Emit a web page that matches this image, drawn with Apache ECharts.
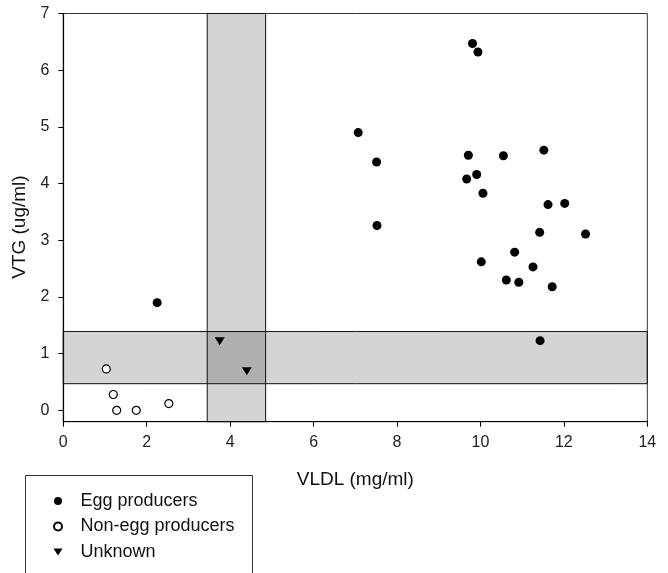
<!DOCTYPE html>
<html>
<head>
<meta charset="utf-8">
<script src="https://cdn.jsdelivr.net/npm/echarts@6/dist/echarts.min.js"></script>
<style>html,body{margin:0;padding:0;background:#fff}#c{width:668px;height:573px}</style>
</head>
<body>
<div id="c"></div>
<script>
const eggX = [9.81, 9.94, 7.07, 7.51, 9.71, 10.55, 11.52, 9.91, 9.67, 10.06, 11.62, 12.02, 11.42, 12.52, 7.52, 10.82, 10.02, 11.26, 10.62, 10.92, 11.72, 11.43, 2.25];
const eggY = [6.47, 6.32, 4.90, 4.38, 4.50, 4.49, 4.59, 4.16, 4.08, 3.83, 3.63, 3.65, 3.14, 3.11, 3.26, 2.79, 2.62, 2.53, 2.30, 2.26, 2.18, 1.23, 1.90];
const nonEggX = [1.03, 1.20, 1.28, 1.75, 2.53];
const nonEggY = [0.73, 0.28, 0.00, 0.00, 0.12];
const unknownX = [3.75, 4.40];
const unknownY = [1.22, 0.69];
const xTicks = [0, 2, 4, 6, 8, 10, 12, 14];
const yTicks = [0, 1, 2, 3, 4, 5, 6, 7];
const vBand = [3.45, 4.85];
const hBand = [0.47, 1.39];
const seriesNames = ['Egg producers', 'Non-egg producers', 'Unknown'];

const FONT = 'Liberation Sans, Arial, Helvetica, sans-serif';
const zip = (xs, ys) => xs.map((x, i) => [x, ys[i]]);

const chart = echarts.init(document.getElementById('c'));
chart.setOption({
  animation: false,
  backgroundColor: '#fff',
  grid: { left: 63.3, right: 20.7, top: 13.5, bottom: 151.3, show: true, borderColor: '#333', borderWidth: 1, backgroundColor: 'transparent' },
  xAxis: {
    type: 'value', min: 0, max: 14, interval: 2,
    name: 'VLDL (mg/ml)', nameLocation: 'middle', nameGap: 49,
    nameTextStyle: { fontFamily: FONT, fontSize: 19, color: '#111' },
    axisLine: { show: true, onZero: false, lineStyle: { color: '#000', width: 1.2 } },
    axisTick: { show: true, inside: false, length: 5, lineStyle: { color: '#000' } },
    axisLabel: { fontFamily: FONT, fontSize: 16, color: '#222', margin: 13 },
    splitLine: { show: false }
  },
  yAxis: {
    type: 'value', min: -0.2, max: 7,
    name: 'VTG (ug/ml)', nameLocation: 'middle', nameGap: 27, nameRotate: 90,
    nameTextStyle: { fontFamily: FONT, fontSize: 19, color: '#111', padding: [0, 19, 0, 0] },
    axisLine: { show: true, onZero: false, lineStyle: { color: '#000', width: 1.2 } },
    axisTick: { show: true, inside: false, length: 5, lineStyle: { color: '#000' }, customValues: yTicks },
    axisLabel: { fontFamily: FONT, fontSize: 16, color: '#222', margin: 14, customValues: yTicks },
    splitLine: { show: false }
  },
  legend: {
    orient: 'vertical', left: 48, top: 487,
    data: [
      { name: seriesNames[0], icon: 'circle' },
      { name: seriesNames[1], icon: 'circle' },
      { name: seriesNames[2], icon: 'path://M0,0 L10,0 L5,8 Z' }
    ],
    itemWidth: 9, itemHeight: 8, itemGap: 7.5,
    textStyle: { fontFamily: FONT, fontSize: 18, color: '#111', lineHeight: 18, padding: [0, 0, 0, 13] },
    selectedMode: false
  },
  graphic: [{
    type: 'rect', left: 25, top: 475,
    shape: { width: 227, height: 120 },
    style: { fill: 'transparent', stroke: '#333', lineWidth: 1 },
    z: 0
  }],
  series: [
    {
      name: 'bands', type: 'scatter', data: [], clip: false, z: 1, silent: true,
      markArea: {
        silent: true,
        itemStyle: { color: 'rgba(0,0,0,0.17)', borderColor: '#111', borderWidth: 1 },
        data: [
          [{ xAxis: vBand[0], yAxis: -0.2 }, { xAxis: vBand[1], yAxis: 7 }],
          [{ xAxis: 0, yAxis: hBand[0] }, { xAxis: 14.05, yAxis: hBand[1] }]
        ]
      }
    },
    {
      name: seriesNames[0], type: 'scatter', z: 5, symbol: 'circle', symbolSize: 9,
      itemStyle: { color: '#000', opacity: 1 },
      data: zip(eggX, eggY)
    },
    {
      name: seriesNames[1], type: 'scatter', z: 5, symbol: 'circle', symbolSize: 8,
      itemStyle: { color: '#fff', borderColor: '#000', borderWidth: 1.2, opacity: 1 },
      data: zip(nonEggX, nonEggY)
    },
    {
      name: seriesNames[2], type: 'scatter', z: 5, symbol: 'triangle', symbolRotate: 180, symbolSize: [10, 8],
      itemStyle: { color: '#000', opacity: 1 },
      data: zip(unknownX, unknownY)
    }
  ]
});
</script>
</body>
</html>
